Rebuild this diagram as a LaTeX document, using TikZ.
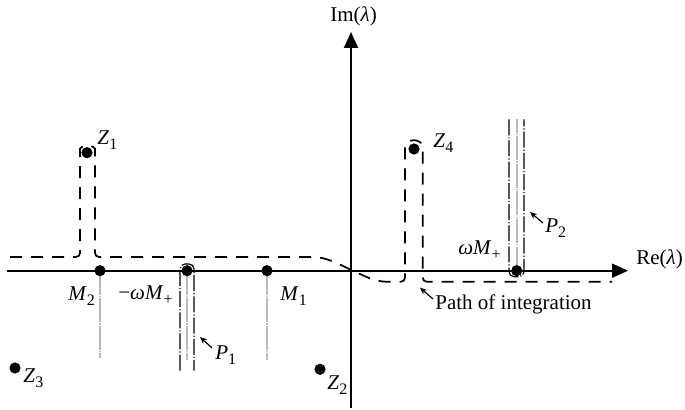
\documentclass[tikz,border=0pt]{standalone}
\usepackage{fontspec}
\setmainfont{Liberation Serif}
\usetikzlibrary{arrows.meta}
\newcommand\sbx[1]{\raisebox{-0.45ex}{\fontsize{8}{8}\selectfont #1}}
\begin{document}
\begin{tikzpicture}[x=0.5pt,y=-0.5pt,
  font=\fontsize{10.5}{12}\selectfont,
  axis/.style={line width=1pt,-{Triangle[length=8pt,width=7pt]}},
  dot/.style={circle,fill=black,inner sep=0pt,minimum size=5.6pt},
  pathc/.style={line width=0.85pt,dash pattern=on 6pt off 4.5pt,rounded corners=2pt},
  loopc/.style={line width=0.6pt,dash pattern=on 8pt off 1pt on 0.6pt off 1pt,rounded corners=2.5pt},
  cut/.style={line width=1.1pt,gray!55,dash pattern=on 12pt off 0.6pt on 0.6pt off 0.6pt},
  lbl/.style={inner sep=0pt,anchor=base west},
  pointer/.style={line width=0.6pt,-{Stealth[length=3.5pt,width=3pt]}}]
\useasboundingbox (0,0) rectangle (685,410);

% axes
\coordinate (xs) at (7,270.7);
\coordinate (xe) at (628,270.7);
\coordinate (ys) at (351,408);
\coordinate (ye) at (351,32);
\draw[axis] (xs) -- (xe);
\draw[axis] (ys) -- (ye);

% cut end points
\coordinate (M2c) at (100,358);
\coordinate (P1c) at (187,360);
\coordinate (M1c) at (267,360);
\coordinate (P2c) at (516.7,119.3);

% cuts
\draw[cut] (100,270.7) -- (M2c);
\draw[cut] (187,270.7) -- (P1c);
\draw[cut] (267,270.7) -- (M1c);
\draw[cut] (516.7,270.7) -- (P2c);

% path of integration
\draw[pathc] (10,257) -- (80,257) -- (80,152.7)
  arc[start angle=180,end angle=0,radius=3.75pt] -- (95,257) -- (310,257)
  .. controls (335,257) and (365,281.7) .. (390,281.7) -- (405,281.7) -- (405,149)
  arc[start angle=180,end angle=0,radius=4.425pt] -- (422.7,281.7) -- (612,281.7);

% loops around P1 and P2
\draw[loopc] (180,370.7) -- (180,264) -- (194,264) -- (194,370.7);
\draw[loopc] (509,119.3) -- (509,276.7) -- (524,276.7) -- (524,119.3);

% points
\node[dot] (Z1) at (87,152.7) {};
\node[dot] (Z4) at (414,149) {};
\node[dot] (Z3) at (15,368) {};
\node[dot] (Z2) at (320,369.3) {};
\node[dot] (M2) at (100,270.7) {};
\node[dot] (P1) at (187,270.7) {};
\node[dot] (M1) at (267,270.7) {};
\node[dot] (P2) at (516.7,270.7) {};

% labels
\node[lbl] (lZ1) at (97,145) {\textit{Z}\sbx{1}};
\node[lbl] (lZ4) at (433,148) {\textit{Z}\sbx{4}};
\node[lbl] (lZ3) at (23,383) {\textit{Z}\sbx{3}};
\node[lbl] (lZ2) at (327,390) {\textit{Z}\sbx{2}};
\node[lbl] (lM1) at (280,301) {\textit{M}\sbx{1}};
\node[lbl] (lM2) at (68,301) {\textit{M}\sbx{2}};
\node[lbl] (lwm) at (118,300) {−\textit{ωM}\sbx{+}};
\node[lbl] (lwp) at (458,255) {\textit{ωM}\sbx{+}};
\node[lbl] (lP1) at (215,360) {\textit{P}\sbx{1}};
\node[lbl] (lP2) at (545,233) {\textit{P}\sbx{2}};
\node[lbl] (lRe) at (636,265) {Re(\textit{λ})};
\node[lbl] (lIm) at (330,21.5) {Im(\textit{λ})};
\node[lbl] (lPath) at (435,310) {Path of integration};

% pointers
\coordinate (aP1s) at (212,348);
\coordinate (aP1) at (200,337);
\coordinate (aP2s) at (543,223);
\coordinate (aP2) at (530,212);
\coordinate (aPs) at (433,299);
\coordinate (aP) at (420,287.7);
\draw[pointer] (aP1s) -- (aP1);
\draw[pointer] (aP2s) -- (aP2);
\draw[pointer] (aPs) -- (aP);
\end{tikzpicture}
\end{document}
